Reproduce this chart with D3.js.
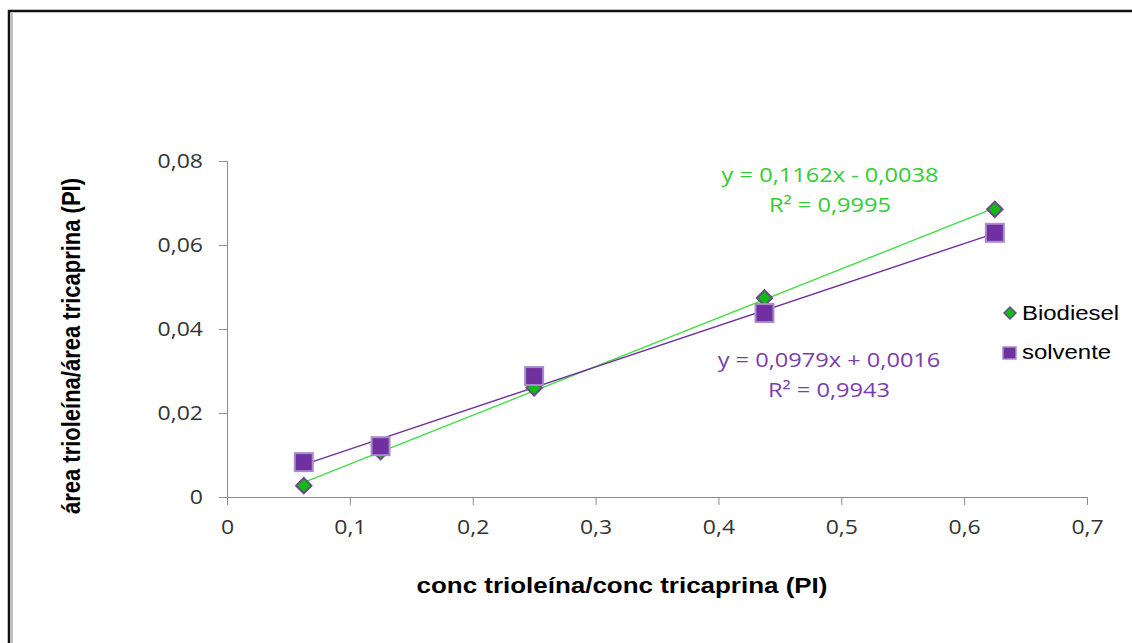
<!DOCTYPE html>
<html>
<head>
<meta charset="utf-8">
<script src="https://cdn.jsdelivr.net/npm/d3@7"></script>
<style>
  body { margin: 0; background: #fff; }
  svg { display: block; }
  .axis path, .axis line { stroke: #8c8c8c; }
  .axis text { font-family: "Open Sans", sans-serif; font-size: 19.5px; fill: #333; }
  .title { font-family: "Liberation Sans", Arial, sans-serif; font-size: 22px; font-weight: bold; fill: #000; }
  .eq { font-family: "Open Sans", sans-serif; font-size: 20px; }
  .legend { font-family: "Liberation Sans", Arial, sans-serif; font-size: 21px; fill: #000; }
</style>
</head>
<body>
<svg width="1132" height="643"></svg>
<script>
// dados
const xVals = [0.0625, 0.125, 0.25, 0.4375, 0.625];
const biodiesel = [0.0027, 0.0108, 0.026, 0.0474, 0.0685];
const solvente = [0.0083, 0.0121, 0.0288, 0.0438, 0.0629];
const xTicks = [0, 0.1, 0.2, 0.3, 0.4, 0.5, 0.6, 0.7];
const yTicks = [0, 0.02, 0.04, 0.06, 0.08];
// coeficientes das linhas de tendência
const bioFit = [0.1162, -0.0038];
const solFit = [0.0979, 0.0016];
const bioLabel = ["y = 0,1162x - 0,0038", "R² = 0,9995"];
const solLabel = ["y = 0,0979x + 0,0016", "R² = 0,9943"];

const sx = 1.18; // a imagem original está esticada na horizontal

const svg = d3.select("svg");

// moldura
svg.append("rect").attr("x", 9).attr("y", 11).attr("width", 1140).attr("height", 650)
    .attr("fill", "none").attr("stroke", "#111").attr("stroke-width", 2.5);
svg.append("line").attr("x1", 12).attr("x2", 12).attr("y1", 13).attr("y2", 643)
    .attr("stroke", "#aaa").attr("stroke-width", 1.5);

const x = d3.scaleLinear().domain([0, 0.7]).range([227, 1087]);
const y = d3.scaleLinear().domain([0, 0.08]).range([497, 161]);
const fmt = d => d3.format(".2~f")(d).replace(".", ",");

// eixos
svg.append("g")
    .attr("class", "axis")
    .attr("transform", "translate(0," + y(0) + ")")
    .call(d3.axisBottom(x).tickValues(xTicks).tickSize(8).tickSizeOuter(8).tickPadding(15).tickFormat(fmt))
    .selectAll("text").attr("transform", "scale(" + sx + ",1)");

svg.append("g")
    .attr("class", "axis")
    .attr("transform", "translate(" + x(0) + ",0)")
    .call(d3.axisLeft(y).tickValues(yTicks).tickSize(8).tickSizeOuter(8).tickFormat(fmt))
    .selectAll("text").attr("x", -24 / sx).attr("transform", "scale(" + sx + ",1)");

// títulos
svg.append("text").attr("class", "title")
    .attr("transform", "translate(622,593) scale(" + sx + ",1)").attr("text-anchor", "middle")
    .text("conc trioleína/conc tricaprina (PI)");
svg.append("text").attr("class", "title")
    .attr("transform", "translate(80,346) scale(" + sx + ",1) rotate(-90)").attr("text-anchor", "middle")
    .text("área trioleína/área tricaprina (PI)");

// linhas de tendência
const xExt = d3.extent(xVals);
function trend(fit, color) {
    svg.append("line")
        .attr("x1", x(xExt[0])).attr("y1", y(fit[0] * xExt[0] + fit[1]))
        .attr("x2", x(xExt[1])).attr("y2", y(fit[0] * xExt[1] + fit[1]))
        .attr("stroke", color).attr("stroke-width", 1.4);
}
trend(bioFit, "#44dd44");
trend(solFit, "#7030a0");

// marcadores
const diamond = d3.symbol().type(d3.symbolDiamond2).size(150);
svg.append("g").selectAll("path")
    .data(xVals.map((v, i) => [v, biodiesel[i]]))
    .join("path")
    .attr("d", diamond)
    .attr("transform", d => "translate(" + x(d[0]) + "," + y(d[1]) + ")")
    .attr("fill", "#11bb11").attr("stroke", "#6a4a8a").attr("stroke-width", 2);

svg.append("g").selectAll("rect")
    .data(xVals.map((v, i) => [v, solvente[i]]))
    .join("rect")
    .attr("x", d => x(d[0]) - 9).attr("y", d => y(d[1]) - 9)
    .attr("width", 18).attr("height", 18)
    .attr("fill", "#7030a0").attr("stroke", "#a98cc8").attr("stroke-width", 2);

// equações
function eq(lines, cx, cy, color) {
    const g = svg.append("g").attr("transform", "translate(" + cx + "," + cy + ") scale(" + sx + ",1)");
    const t = g.append("text").attr("class", "eq").attr("fill", color).attr("text-anchor", "middle");
    lines.forEach((l, i) => t.append("tspan").attr("x", 0).attr("y", i * 30).text(l));
}
eq(bioLabel, 830, 182, "#33cc33");
eq(solLabel, 829, 367, "#7a3db0");

// legenda
const lg = svg.append("g");
lg.append("path").attr("d", d3.symbol().type(d3.symbolDiamond2).size(90))
    .attr("transform", "translate(1010,313)")
    .attr("fill", "#11bb11").attr("stroke", "#6a4a8a").attr("stroke-width", 1.5);
lg.append("text").attr("class", "legend")
    .attr("transform", "translate(1022,320) scale(1.14,1)").text("Biodiesel");
lg.append("rect").attr("x", 1003).attr("y", 347).attr("width", 13).attr("height", 12)
    .attr("fill", "#7030a0").attr("stroke", "#a98cc8").attr("stroke-width", 1.5);
lg.append("text").attr("class", "legend")
    .attr("transform", "translate(1022,359) scale(1.14,1)").text("solvente");
</script>
</body>
</html>
